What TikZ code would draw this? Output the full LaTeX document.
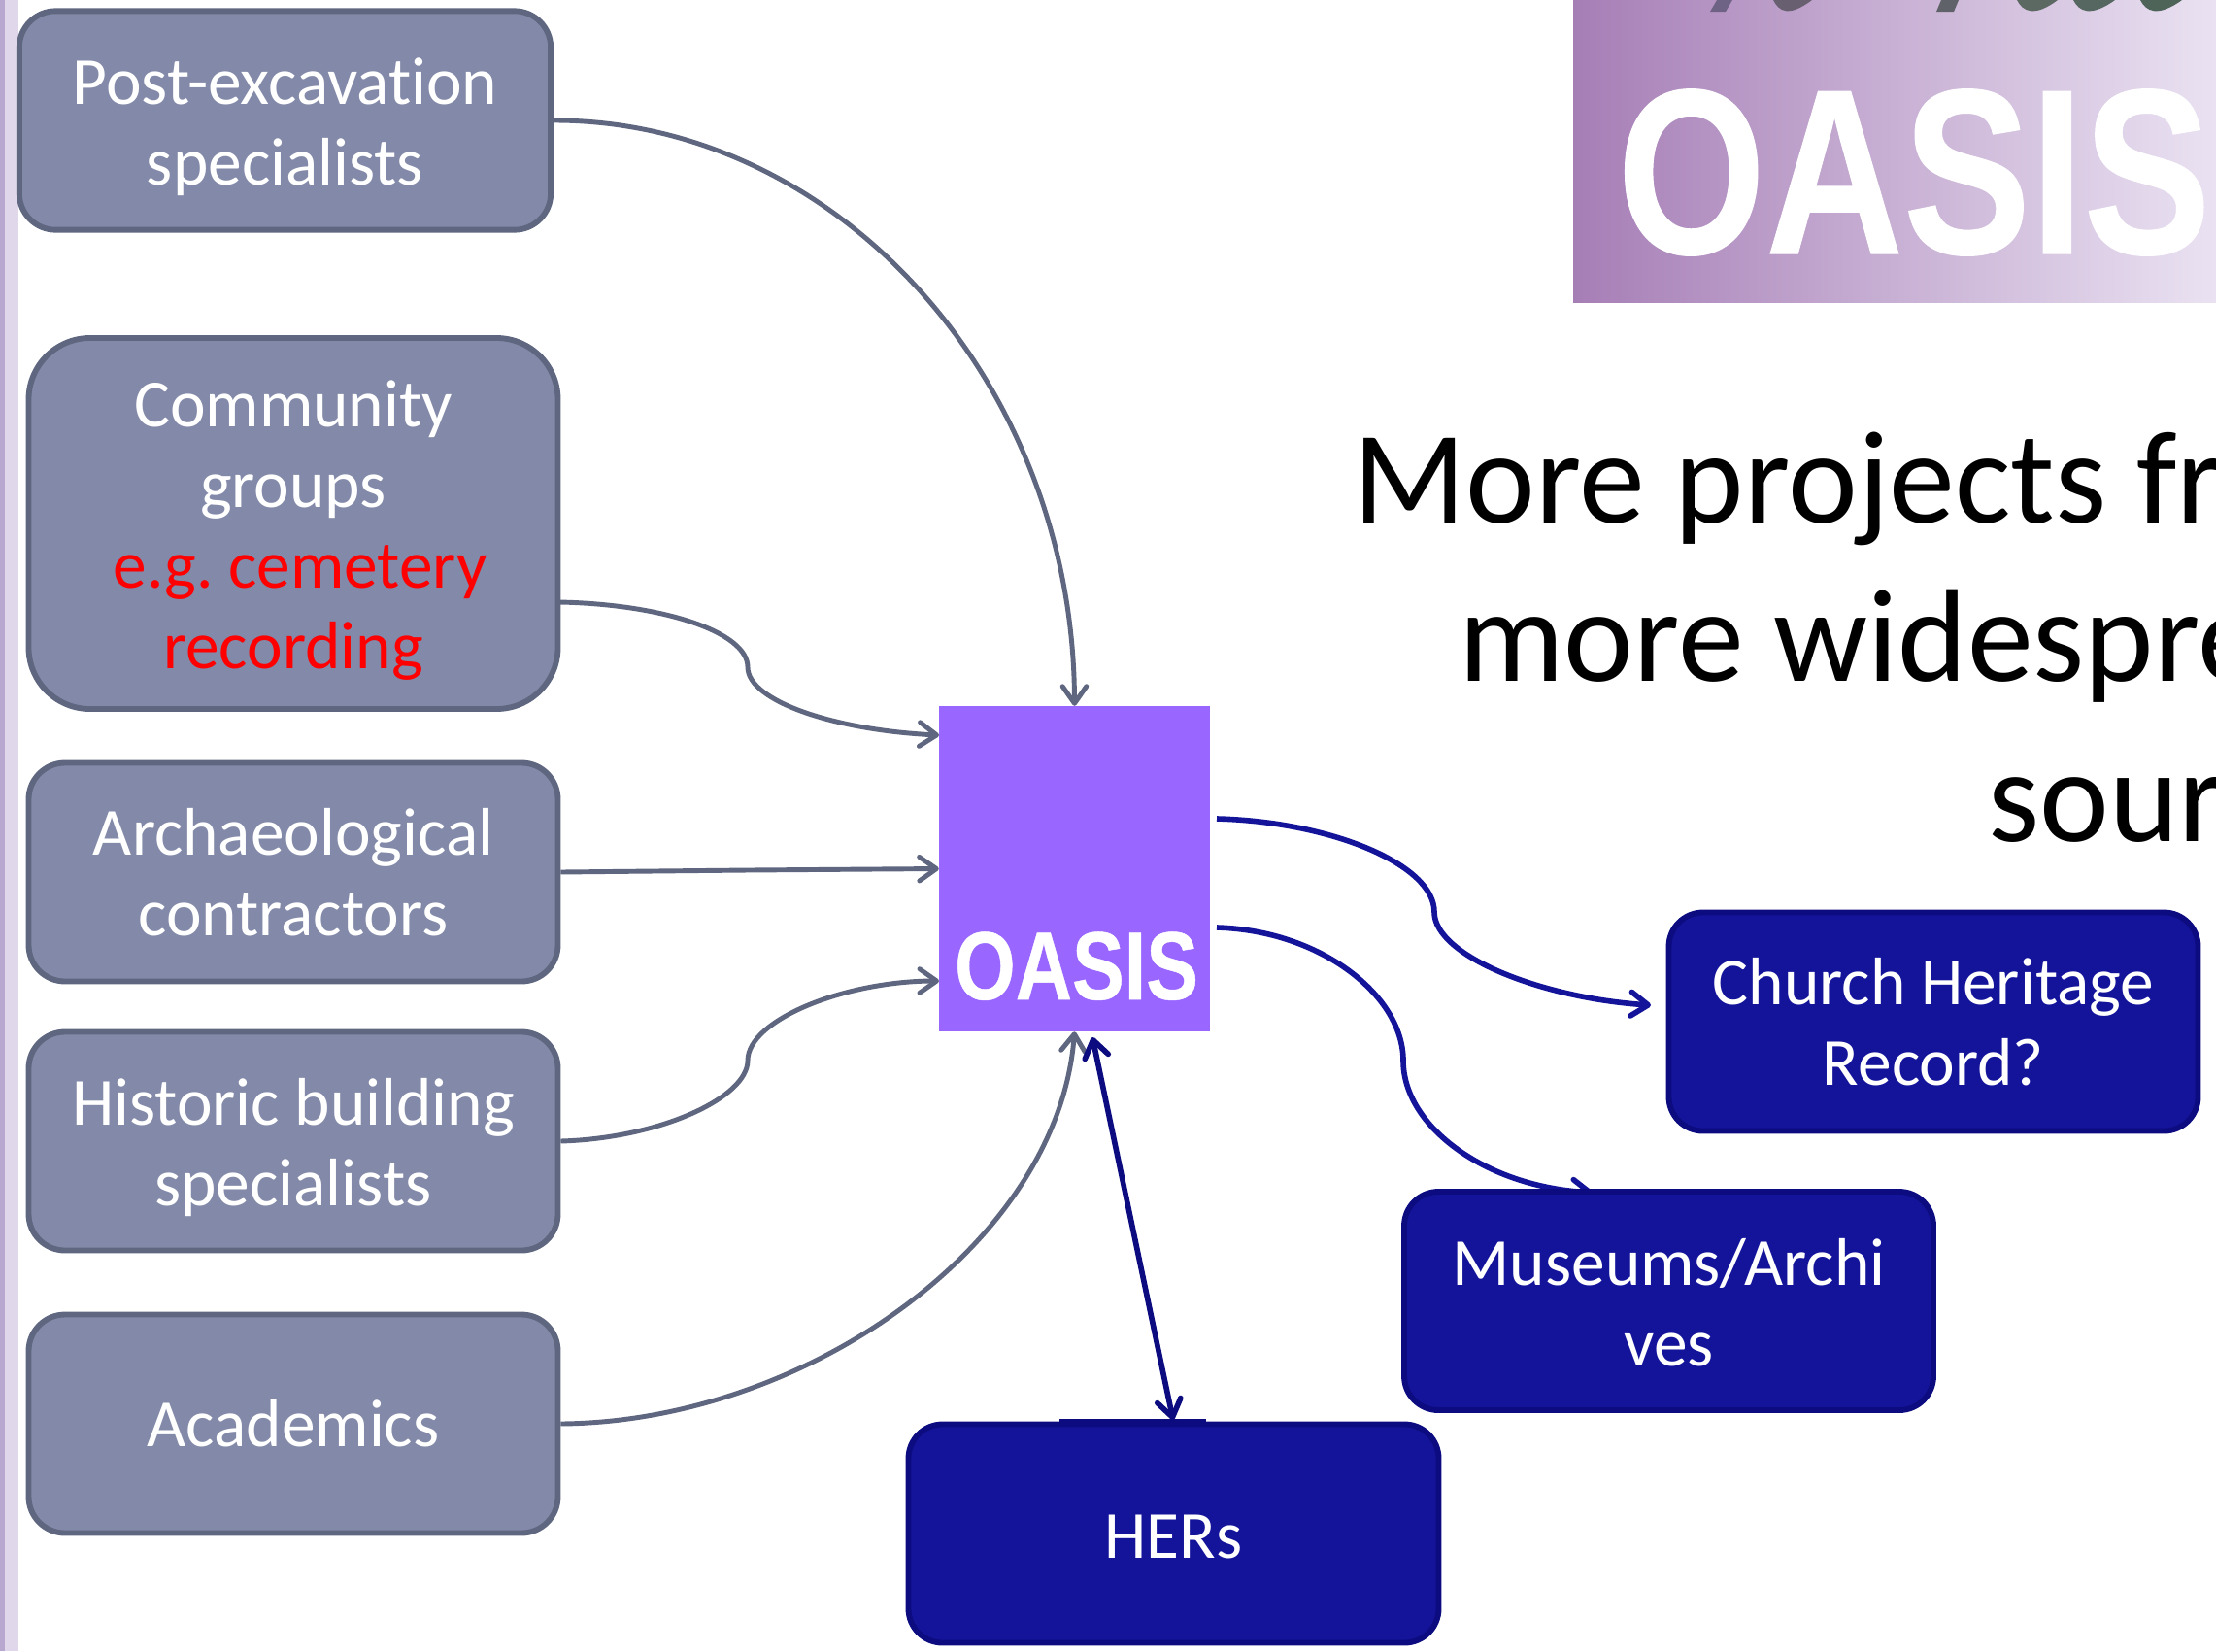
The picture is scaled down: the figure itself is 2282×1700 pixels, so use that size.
\documentclass[tikz,border=0pt]{standalone}
\usepackage{fontspec}
\usetikzlibrary{arrows.meta}
\setmainfont{Carlito}[Ligatures=NoCommon]
\newfontfamily\logofont{Liberation Sans}[BoldFeatures={FakeBold=0.5}]
\frenchspacing
\definecolor{gfill}{HTML}{8389A8}
\definecolor{gline}{HTML}{5F6780}
\definecolor{bfill}{HTML}{14149A}
\definecolor{bline}{HTML}{0C0C80}
\definecolor{oasisviolet}{HTML}{9966FF}
\newcommand{\topgap}[1]{\rule{0pt}{#1}}
\tikzset{
  gbox/.style={draw=gline,fill=gfill,line width=5pt,rounded corners=32pt,text=white,align=center,
    font=\fontsize{59.2}{70.8}\selectfont,inner sep=0pt},
  bbox/.style={draw=bline,fill=bfill,line width=5pt,rounded corners=30pt,text=white,align=center,
    font=\fontsize{59.2}{70.8}\selectfont,inner sep=0pt},
  glink/.style={draw=gline,line width=4.2pt,-{Straight Barb[length=15pt,width=21pt,line width=4.2pt,round]}},
  blink/.style={draw=bfill,line width=4.8pt,-{Straight Barb[length=15pt,width=21pt,line width=4.8pt,round]}},
  bigtext/.style={anchor=base west,inner sep=0pt,font=\fontsize{116}{140}\selectfont,text=black},
}
\begin{document}
\begin{tikzpicture}[x=.3mm,y=-.3mm]
\useasboundingbox (0,0) rectangle (2282,1700);
\clip (0,0) rectangle (2282,1700);
\fill[white] (0,0) rectangle (2282,1700);
% slide edge
\fill[color={rgb,255:red,224;green,216;blue,234}] (0,0) rectangle (19,1700);
\fill[color={rgb,255:red,184;green,168;blue,208}] (0,0) rectangle (5,1700);
% logo banner
\shade[left color={rgb,255:red,166;green,126;blue,182},right color={rgb,255:red,234;green,226;blue,242}] (1620,0) rectangle (2282,311);
\fill[color={rgb,255:red,111;green,99;blue,133}] (1761,12) -- (1777,12) -- (1784,0) -- (1768,0) -- cycle;
\fill[color={rgb,255:red,104;green,96;blue,112}] (1826,0) .. controls (1832,12) and (1842,18) .. (1866,0) -- cycle;
\fill[color={rgb,255:red,95;green,98;blue,104}] (1994,12) -- (2012,12) -- (2017,0) -- (1999,0) -- cycle;
\fill[color={rgb,255:red,92;green,104;blue,98}] (2077,0) .. controls (2083,12) and (2095,18) .. (2119,0) -- cycle;
\fill[color={rgb,255:red,86;green,102;blue,96}] (2135,0) .. controls (2141,12) and (2153,18) .. (2178,0) -- cycle;
\fill[color={rgb,255:red,79;green,100;blue,89}] (2204,0) .. controls (2210,12) and (2222,18) .. (2247,0) -- cycle;
\node[anchor=base,inner sep=0pt,text=white,font=\logofont\bfseries\fontsize{207}{207}\selectfont] (banner) at (1971,261) {\scalebox{.81}[1]{OASIS}};
% big text
\node[bigtext] (l1) at (1393,538) {More projects fr};
\node[bigtext] (l2) at (1502,701) {more widespre};
\node[bigtext] (l3) at (2047,866) {sour};
% centre
\node[fill=oasisviolet,inner sep=0pt,minimum width=83.7mm,minimum height=100.5mm] (O) at (1106.5,894.5) {};
\node[anchor=base,inner sep=0pt,text=white,font=\logofont\bfseries\fontsize{85}{85}\selectfont] (Ot) at (1108.5,1029) {\scalebox{.81}[1]{OASIS}};
% helper ends
\coordinate (b1) at (576,620);
\coordinate (o1) at (967,757);
\coordinate (o3) at (967,1010);
\coordinate (o4) at (1253,843);
\coordinate (f1) at (1700,1035);
\coordinate (o5) at (1253,955);
\coordinate (g1) at (1640,1228);
\coordinate (o6) at (1125,1068);
\coordinate (h1) at (1208,1462);
% outgoing to museums first: its head lies under the box
\draw[blink] (o5) .. controls (1360,958) and (1445,1025) .. (1445,1092) .. controls (1445,1160) and (1530,1222) .. (g1);
% boxes
\node[gbox,minimum width=164.2mm,minimum height=67.6mm] (A) at (293.5,124) {\topgap{52pt}Post-excavation\\specialists};
\node[gbox,rounded corners=54pt,minimum width=163.5mm,minimum height=114.6mm] (B) at (302,539) {\topgap{53pt}Community\\groups\\\hspace*{12.4pt}\textcolor{red}{e.g. cemetery}\\\textcolor{red}{recording}};
\node[gbox,minimum width=163.5mm,minimum height=67.5mm] (C) at (302,898) {Archaeological\\contractors};
\node[gbox,minimum width=163.5mm,minimum height=67.5mm] (D) at (302,1175) {\topgap{52pt}Historic building\\specialists};
\node[gbox,minimum width=163.5mm,minimum height=67.5mm] (E) at (302,1466) {Academics};
\node[bbox,minimum width=163.5mm,minimum height=67.5mm] (F) at (1991,1052) {Church Heritage\\Record?};
\node[bbox,minimum width=163.5mm,minimum height=67.5mm] (G) at (1718.5,1339.5) {\topgap{44pt}Museums/Archi\\ves};
\node[bbox,minimum width=163.8mm,minimum height=67.5mm] (H) at (1208.5,1579) {\topgap{44pt}HERs};
\fill[bline] (1091,1461) rectangle (1242,1468);
% connectors
\draw[glink] (A.east) .. controls (864,124) and (1106,395) .. (O.north);
\draw[glink] (b1) .. controls (680,622) and (770,650) .. (770,687) .. controls (770,722) and (860,752) .. (o1);
\draw[glink] (C.east) -- (770,896) -- (O.west);
\draw[glink] (D.east) .. controls (680,1172) and (770,1130) .. (770,1092) .. controls (770,1050) and (870,1010) .. (o3);
\draw[glink] (E.east) .. controls (830,1464) and (1090,1280) .. (O.south);
\draw[blink] (o4) .. controls (1370,846) and (1477,890) .. (1477,939) .. controls (1477,985) and (1590,1028) .. (f1);
\draw[blink,draw=bline,{Straight Barb[length=15pt,width=21pt,line width=4.8pt,round]}-{Straight Barb[length=15pt,width=21pt,line width=4.8pt,round]}] (o6) -- (h1);
\end{tikzpicture}
\end{document}
